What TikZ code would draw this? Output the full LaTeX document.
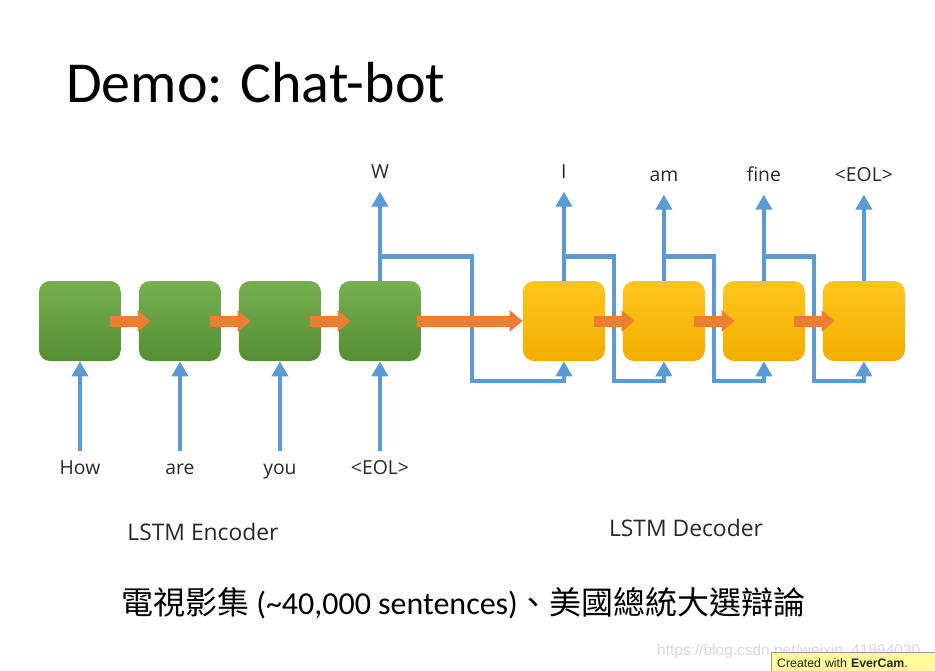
\documentclass[tikz,border=0pt]{standalone}
\usepackage{fontspec}
\setmainfont{Carlito}
\newfontfamily\labelfont{Open Sans}
\newfontfamily\cjk{Noto Sans CJK TC}
\newfontfamily\wmfont{Liberation Sans}
\usetikzlibrary{shapes,arrows.meta,calc}
\definecolor{encgreen}{RGB}{118,176,80}
\definecolor{encgreendark}{RGB}{86,142,52}
\definecolor{decyellow}{RGB}{255,198,30}
\definecolor{decyellowdark}{RGB}{242,174,0}
\definecolor{stateorange}{RGB}{237,125,49}
\definecolor{ioblue}{RGB}{91,155,213}
\definecolor{labelgray}{RGB}{40,40,40}
\tikzstyle{encblock} = [rectangle, rounded corners=0.22cm, top color=encgreen,
    bottom color=encgreendark, minimum width=1.64cm, minimum height=1.6cm, inner sep=0pt]
\tikzstyle{decblock} = [rectangle, rounded corners=0.22cm, top color=decyellow,
    bottom color=decyellowdark, minimum width=1.64cm, minimum height=1.6cm, inner sep=0pt]
\tikzstyle{word} = [font=\labelfont\fontsize{11}{13}\selectfont, text=labelgray,
    text height=1.5ex, text depth=0.35ex, inner sep=2pt]
\tikzstyle{caption} = [font=\labelfont\fontsize{13}{15}\selectfont, text=labelgray]
\tikzstyle{io} = [draw, ioblue, line width=0.09cm, -{Triangle[length=0.3cm, width=0.32cm]}]
\tikzstyle{feedback} = [io]
\tikzstyle{pass} = [draw, stateorange, line width=0.22cm, -{Triangle[length=0.26cm, width=0.42cm]}]

\begin{document}
\begin{tikzpicture}[x=0.02cm, y=-0.02cm, node distance=2cm, auto]
    \useasboundingbox [fill=white] (0,0) rectangle (935,670);
    % Place nodes
    \node [anchor=base west, font=\fontsize{33}{38}\selectfont] (title) at (60,102) {Demo: Chat-bot};
    \node [encblock] (enc1) at (80,321) {};
    \node [encblock, right of=enc1] (enc2) {};
    \node [encblock, right of=enc2] (enc3) {};
    \node [encblock, right of=enc3] (enc4) {};
    \node [decblock, right of=enc4, node distance=3.68cm] (dec1) {};
    \node [decblock, right of=dec1] (dec2) {};
    \node [decblock, right of=dec2] (dec3) {};
    \node [decblock, right of=dec3] (dec4) {};
    \node [word, below of=enc1, node distance=2.98cm] (in1) {How};
    \node [word, below of=enc2, node distance=2.98cm] (in2) {are};
    \node [word, below of=enc3, node distance=2.98cm] (in3) {you};
    \node [word, below of=enc4, node distance=2.98cm] (in4) {<EOL>};
    \node [word, above of=enc4, node distance=2.94cm] (outW) {W};
    \node [word, above of=dec1, node distance=2.94cm] (out1) {I};
    \node [word, above of=dec2, node distance=2.88cm] (out2) {am};
    \node [word, above of=dec3, node distance=2.88cm] (out3) {fine};
    \node [word, above of=dec4, node distance=2.88cm] (out4) {<EOL>};
    \node [caption] (encoder) at (203,532) {LSTM Encoder};
    \node [caption] (decoder) at (686,528) {LSTM Decoder};
    \node [anchor=west, font=\fontsize{18.2}{21}\selectfont] (corpus) at (115,603)
        {{\cjk 電視影集} (\textasciitilde40,000 sentences){\cjk 、美國總統大選辯論}};
    \coordinate (fb1) at (472,381);
    \coordinate (fb2) at (614,381);
    \coordinate (fb3) at (714,381);
    \coordinate (fb4) at (814,381);
    % Draw edges
    \path [io, shorten <=0.14cm] (in1) -- (enc1);
    \path [io, shorten <=0.14cm] (in2) -- (enc2);
    \path [io, shorten <=0.14cm] (in3) -- (enc3);
    \path [io, shorten <=0.14cm] (in4) -- (enc4);
    \path [io, shorten >=0.12cm] (enc4) -- (outW);
    \path [io, shorten >=0.12cm] (dec1) -- (out1);
    \path [io, shorten >=0.12cm] (dec2) -- (out2);
    \path [io, shorten >=0.12cm] (dec3) -- (out3);
    \path [io, shorten >=0.12cm] (dec4) -- (out4);
    \path [feedback] ($(enc4.north)+(0,-24)$) -| (fb1) -| (dec1.south);
    \path [feedback] ($(dec1.north)+(0,-24)$) -| (fb2) -| (dec2.south);
    \path [feedback] ($(dec2.north)+(0,-24)$) -| (fb3) -| (dec3.south);
    \path [feedback] ($(dec3.north)+(0,-24)$) -| (fb4) -| (dec4.south);
    \path [pass] ($(enc1.east)+(-11,0)$) -- ($(enc2.west)+(12,0)$);
    \path [pass] ($(enc2.east)+(-11,0)$) -- ($(enc3.west)+(12,0)$);
    \path [pass] ($(enc3.east)+(-11,0)$) -- ($(enc4.west)+(12,0)$);
    \path [pass] ($(enc4.east)+(-4,0)$) -- (dec1.west);
    \path [pass] ($(dec1.east)+(-11,0)$) -- ($(dec2.west)+(12,0)$);
    \path [pass] ($(dec2.east)+(-11,0)$) -- ($(dec3.west)+(12,0)$);
    \path [pass] ($(dec3.east)+(-11,0)$) -- ($(dec4.west)+(12,0)$);
    % watermark
    \node [anchor=west, text=gray!30, font=\wmfont\fontsize{8.8}{10}\selectfont] (wm) at (651,651)
        {https://blog.csdn.net/weixin\_41894030};
    \node [draw=gray!80, fill=yellow!40, anchor=north west, minimum width=3.5cm,
        minimum height=0.4cm, text=black!85, font=\wmfont\fontsize{7}{8}\selectfont,
        text width=3.3cm] (evercam) at (771,652) {Created with \textbf{EverCam}.};
\end{tikzpicture}
\end{document}
